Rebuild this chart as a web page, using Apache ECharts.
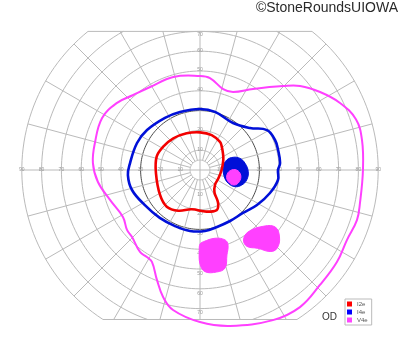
<!DOCTYPE html>
<html><head><meta charset="utf-8">
<script src="https://cdn.jsdelivr.net/npm/echarts@6/dist/echarts.min.js"></script>
<style>html,body{margin:0;padding:0;background:#fff}#c{width:400px;height:352px}</style>
</head><body><div id="c"></div>
<script>
// Goldmann reticle (degrees of eccentricity)
const ringRadii = [5, 10, 20, 30, 40, 50, 60, 70, 80, 90];
const meridianAngles = [0, 15, 30, 45, 60, 75, 90, 105, 120, 135, 150, 165, 180, 195, 210, 225, 240, 255, 270, 285, 300, 315, 330, 345];
const horizontalTicks = [10, 20, 30, 40, 50, 60, 70, 80, 90];
const verticalTicks = [10, 20, 30, 40, 50, 60, 70];
const fieldTop = 70;      // reticle clipped above this eccentricity
const fieldBottom = 75.5; // reticle clipped below this eccentricity

// Isopters: [meridian angle (deg, ccw from right), eccentricity (deg)]
const isopterV4e = [[0,82.3],[10.5,83.2],[18,82.8],[25.6,78.4],[33,72.3],[40,66],[45.3,59.6],[56.8,48.9],[67,42.8],[74,42.5],[83.8,46.7],[90,47.5],[106,48.9],[121,48.9],[132,50.8],[141,53.9],[152,56],[165.6,54.8],[176.3,54.2],[186.7,51.9],[198.4,47.9],[211.4,45.6],[219.4,47.7],[224.6,48.2],[233.8,51.3],[238.6,51.5],[242.4,52.4],[248.6,59.6],[253.8,66.8],[259.1,72],[270,76.8],[280.9,80.2],[295.9,84.3],[306.1,85.7],[316.2,83.9],[326.1,83.3],[334.5,82.2],[342.3,83.2],[348.3,82.5]];
const isopterI4e = [[0,39.4],[5,40.6],[14.4,40.7],[21.8,40.8],[30.8,39.4],[40,33],[54.9,29],[75.5,30.3],[90,30.8],[109,31],[123.9,31.7],[143,33.5],[156.8,34.6],[174.3,35.5],[184,36.5],[196.4,35.8],[212.5,33],[230,31.6],[246,31],[260.7,31.2],[274.7,30.9],[286.6,30],[300.5,29.9],[315,30.7],[328.4,33.8],[341.8,37.2],[352.7,39.7]];
const isopterI2e = [[0,10.9],[23.2,12.8],[36.5,14.4],[47,16.1],[54.5,17.4],[71.5,18.6],[90,19],[110,19.7],[130.1,20.9],[147.6,22],[162.9,22.9],[184.3,22.3],[212,23.8],[227.8,25],[241.9,23.3],[258,20.3],[279,21.3],[292.7,21.9],[297.6,19.9],[300,17.5],[302.8,13.5],[315,10.7],[335.6,10.2]];
// Scotomas
const blindSpotI4e = [[20.9,18],[16.3,21],[8.5,23],[358,24.4],[347.9,24.1],[340.2,22.4],[334.5,19.6],[334.8,15.8],[344.6,12.7],[8.1,11.9],[20.5,14.4]];
const blindSpotV4e = [[358.7,15.2],[0,18.5],[353,20.7],[343.4,20.7],[336.2,18.8],[337.5,15.5],[347.3,13.8]];
const scotomaV4eA = [[272.6,36.3],[282.4,35.3],[289.7,37.5],[290.5,40.4],[287.6,45],[284.3,51.1],[279.3,52.2],[272.8,51.4],[270,47.5],[269.5,40.4],[270,37.4]];
const scotomaV4eB = [[307.7,39.6],[317.7,42.4],[322.8,47.6],[319.9,52.5],[314.5,55.5],[310.7,54.3],[306.5,49.2],[301.6,45.3],[301.9,41.6]];

const colorI2e = '#f20000', colorI4e = '#0010d8', colorV4e = '#ff40ff';
const D = Math.PI / 180;

function reticle(params, api) {
  const kids = [];
  const gray = '#bababa';
  const norm = a => ((a % 360) + 360) % 360;
  ringRadii.forEach(r => {
    let spans;
    if (r <= fieldTop) spans = [[0, 360]];
    else if (r <= fieldBottom) { const a = Math.asin(fieldTop / r) / D; spans = [[180 - a, 360 + a]]; }
    else { const a = Math.asin(fieldTop / r) / D, b = Math.asin(fieldBottom / r) / D; spans = [[-b, a], [180 - a, 180 + b]]; }
    spans.forEach(([s, e]) => {
      const pts = [];
      for (let t = s; t < e; t += 2) pts.push(api.coord([r, norm(t)]));
      pts.push(api.coord([r, norm(e)]));
      kids.push({type: 'polyline', shape: {points: pts}, style: {fill: 'none', stroke: r === 30 ? '#4a4a4a' : gray, lineWidth: 1}, silent: true});
    });
  });
  const a90 = Math.asin(fieldTop / 90) / D, b90 = Math.asin(fieldBottom / 90) / D;
  [[a90, 180 - a90], [180 + b90, 360 - b90]].forEach(([s, e]) => {
    kids.push({type: 'polyline', shape: {points: [api.coord([90, s]), api.coord([90, e])]}, style: {fill: 'none', stroke: gray, lineWidth: 1}, silent: true});
  });
  meridianAngles.forEach(t => {
    const s = Math.sin(t * D);
    let rEnd = 90;
    if (s > 1e-9) rEnd = Math.min(90, fieldTop / s);
    if (s < -1e-9) rEnd = Math.min(90, fieldBottom / -s);
    const rStart = t % 90 === 0 ? 0 : 5;
    kids.push({type: 'polyline', shape: {points: [api.coord([rStart, t]), api.coord([rEnd, t])]}, style: {fill: 'none', stroke: gray, lineWidth: 1}, silent: true});
  });
  const lbl = (v, ang, dy) => {
    const p = api.coord([v, ang]);
    kids.push({type: 'text', x: p[0], y: p[1] + dy, style: {text: String(v), fontSize: 5, fill: '#999', align: 'center', verticalAlign: 'middle', fontFamily: 'Liberation Sans'}, silent: true});
  };
  horizontalTicks.forEach(v => { lbl(v, 0, 0); lbl(v, 180, 0); });
  verticalTicks.forEach(v => { lbl(v, 90, v === 70 ? 3 : -1); lbl(v, 270, 4.5); });
  return {type: 'group', children: kids};
}

function shape(arr, color, filled, width) {
  return function (params, api) {
    const pts = arr.map(p => api.coord([p[1], p[0]]));
    return {type: 'polygon', shape: {points: pts, smooth: 0.4},
      style: filled ? {fill: color, stroke: color, lineWidth: 1} : {fill: 'none', stroke: color, lineWidth: width}, silent: true};
  };
}
function series(name, arr, color, filled, width) {
  return {type: 'custom', name: name, coordinateSystem: 'polar', data: [[0, 0]], clip: false,
    itemStyle: {color: color}, renderItem: shape(arr, color, filled, width)};
}

const chart = echarts.init(document.getElementById('c'), null, {renderer: 'canvas'});
chart.setOption({
  animation: false,
  backgroundColor: '#fff',
  title: [
    {text: '©StoneRoundsUIOWA', right: 2, top: 1, padding: 0, textStyle: {fontSize: 14, fontWeight: 'normal', color: '#2a2a2a', fontFamily: 'Liberation Sans'}},
    {text: 'OD', left: 322, top: 312, padding: 0, textStyle: {fontSize: 10, fontWeight: 'normal', color: '#333', fontFamily: 'Liberation Sans'}}
  ],
  legend: {
    data: [{name: 'I2e', itemStyle: {color: '#ff0000'}}, {name: 'I4e', itemStyle: {color: '#0000ff'}}, {name: 'V4e', itemStyle: {color: '#ff44ff'}}],
    orient: 'vertical', left: 345, top: 299, itemWidth: 5, itemHeight: 5, itemGap: 2, icon: 'rect',
    padding: [2, 4, 2, 2], borderColor: '#bbb', borderWidth: 1, selectedMode: false,
    textStyle: {fontSize: 6, color: '#555', lineHeight: 5, fontFamily: 'Liberation Sans'}
  },
  polar: {center: [200, 170], radius: 178.2},
  radiusAxis: {type: 'value', min: 0, max: 90, axisLine: {show: false}, axisTick: {show: false}, axisLabel: {show: false}, splitLine: {show: false}},
  angleAxis: {type: 'value', min: 0, max: 360, startAngle: 0, clockwise: false, axisLine: {show: false}, axisTick: {show: false}, axisLabel: {show: false}, splitLine: {show: false}},
  series: [
    {type: 'custom', coordinateSystem: 'polar', data: [[0, 0]], clip: false, renderItem: reticle, silent: true},
    series('V4e', isopterV4e, colorV4e, false, 2),
    series('V4e', scotomaV4eA, colorV4e, true),
    series('V4e', scotomaV4eB, colorV4e, true),
    series('I4e', isopterI4e, colorI4e, false, 2.6),
    series('I4e', blindSpotI4e, colorI4e, true),
    series('V4e', blindSpotV4e, colorV4e, true),
    series('I2e', isopterI2e, colorI2e, false, 2.6)
  ]
});
</script></body></html>
